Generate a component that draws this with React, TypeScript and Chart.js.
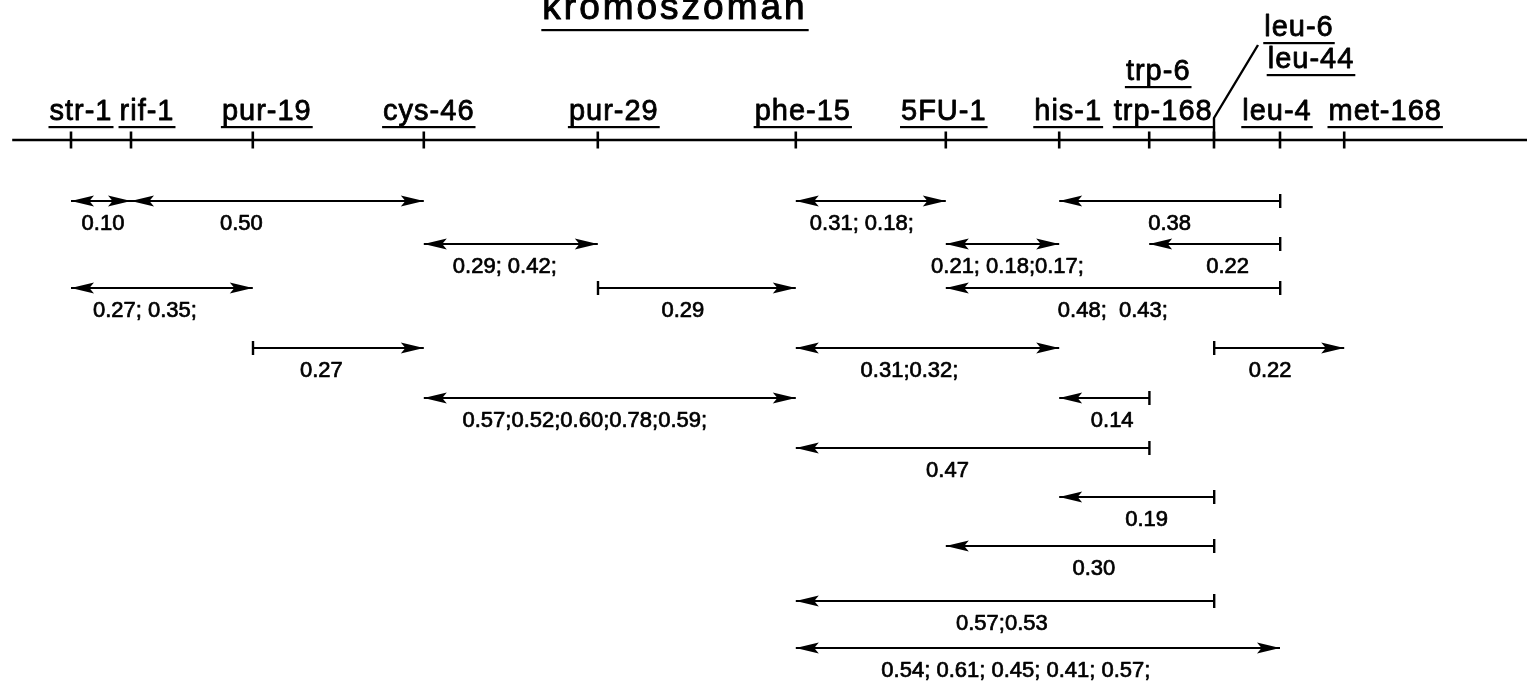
import React, { useEffect, useRef } from 'react';
import { Chart, registerables } from 'chart.js';
Chart.register(...registerables);

// ---------- data ----------
const title = 'kromoszómán';
const genes = ['str-1', 'rif-1', 'pur-19', 'cys-46', 'pur-29', 'phe-15', '5FU-1', 'his-1', 'trp-168', 'leu-6', 'leu-4', 'met-168'];
const genePositions = [0, 0.1, 0.303, 0.588, 0.878, 1.208, 1.458, 1.647, 1.797, 1.905, 2.015, 2.122];
const geneLabelLines = [['str-1'], ['rif-1'], ['pur-19'], ['cys-46'], ['pur-29'], ['phe-15'], ['5FU-1'], ['his-1'], ['trp-6', 'trp-168'], ['leu-6', 'leu-44'], ['leu-4'], ['met-168']];
const axisStart = -0.098;
const axisEnd = 2.45;

const arrowFrom = ['str-1', 'rif-1', 'phe-15', 'his-1', 'cys-46', '5FU-1', 'trp-168', 'str-1', 'pur-29', '5FU-1', 'pur-19', 'phe-15', 'leu-6', 'cys-46', 'his-1', 'phe-15', 'his-1', '5FU-1', 'phe-15', 'phe-15'];
const arrowTo = ['rif-1', 'cys-46', '5FU-1', 'leu-4', 'pur-29', 'his-1', 'leu-4', 'pur-19', 'phe-15', 'leu-4', 'cys-46', 'his-1', 'met-168', 'phe-15', 'trp-168', 'trp-168', 'leu-6', 'leu-6', 'leu-6', 'leu-4'];
const arrowRow = [1.22, 1.22, 1.22, 1.22, 2.08, 2.08, 2.08, 2.96, 2.96, 2.96, 4.16, 4.16, 4.16, 5.16, 5.16, 6.16, 7.14, 8.12, 9.22, 10.16];
const arrowLeftEnd = ['arrow', 'arrow', 'arrow', 'arrow', 'arrow', 'arrow', 'arrow', 'arrow', 'bar', 'arrow', 'bar', 'arrow', 'bar', 'arrow', 'arrow', 'arrow', 'arrow', 'arrow', 'arrow', 'arrow'];
const arrowRightEnd = ['arrow', 'arrow', 'arrow', 'bar', 'arrow', 'arrow', 'bar', 'arrow', 'arrow', 'bar', 'arrow', 'arrow', 'arrow', 'arrow', 'bar', 'bar', 'bar', 'bar', 'bar', 'arrow'];
const arrowLabels = ['0.10', '0.50', '0.31; 0.18;', '0.38', '0.29; 0.42;', '0.21; 0.18;0.17;', '0.22', '0.27; 0.35;', '0.29', '0.48;  0.43;', '0.27', '0.31;0.32;', '0.22', '0.57;0.52;0.60;0.78;0.59;', '0.14', '0.47', '0.19', '0.30', '0.57;0.53', '0.54; 0.61; 0.45; 0.41; 0.57;'];

// ---------- layout (pixels) ----------
const W = 1527;
const H = 689;
const PX_PER_UNIT = 600;
const ORIGIN_X = 71;
const PX_PER_ROW = 50;
const AXIS_Y = 140;
const LABEL_DX = [2, -36, -9, 0, -6, 5, 13, -17, -14, 0, -17, -18, -9, -25, 8, -25, 10, 14, -3, -22];
// per gene, per label line: [dx from tick, baseline y]
const GENE_LABEL_LAYOUT = [
  [[10, 120]], [[16, 120]], [[14, 120]], [[5, 120]], [[16, 120]], [[7, 120]], [[-2, 120]], [[9, 120]],
  [[9, 80], [14, 120]], [[85, 36], [97, 68]], [[-3, 120]], [[41, 120]],
];
const FONT = "'Liberation Sans', Arial, sans-serif";

const pos = (g: string) => genePositions[genes.indexOf(g)];

function drawHead(ctx: CanvasRenderingContext2D, tip: number, yy: number, dir: number) {
  const L = 23, HW = 5.5;
  ctx.beginPath();
  ctx.moveTo(tip, yy);
  ctx.lineTo(tip - dir * L, yy - HW);
  ctx.lineTo(tip - dir * L * 0.8, yy);
  ctx.lineTo(tip - dir * L, yy + HW);
  ctx.closePath();
  ctx.fill();
}

function boldText(ctx: CanvasRenderingContext2D, text: string, x: number, y: number, sw: number) {
  ctx.lineWidth = sw;
  ctx.strokeText(text, x, y);
  ctx.fillText(text, x, y);
}

function underlinedText(ctx: CanvasRenderingContext2D, text: string, cx: number, baseline: number, ul: number, sw: number) {
  ctx.textAlign = 'center';
  ctx.textBaseline = 'alphabetic';
  boldText(ctx, text, cx, baseline, sw);
  const w = ctx.measureText(text).width;
  ctx.fillRect(cx - w / 2 - 1, baseline + ul, w + 2, 2.2);
}

const decorations = {
  id: 'decorations',
  afterDatasetsDraw(chart: any) {
    const ctx: CanvasRenderingContext2D = chart.ctx;
    const xs = chart.scales.x;
    const ys = chart.scales.y;
    ctx.save();
    ctx.fillStyle = '#000';
    ctx.strokeStyle = '#000';
    ctx.lineJoin = 'round';

    // title
    ctx.font = `37px ${FONT}`;
    (ctx as any).letterSpacing = '3px';
    underlinedText(ctx, title, 675, 19, 10, 1);
    (ctx as any).letterSpacing = '1px';

    // gene labels
    ctx.font = `29px ${FONT}`;
    genes.forEach((g, i) => {
      const px = xs.getPixelForValue(genePositions[i]);
      geneLabelLines[i].forEach((line, j) => {
        const [dx, base] = GENE_LABEL_LAYOUT[i][j];
        underlinedText(ctx, line, px + dx, base, 6, 0.8);
      });
    });
    (ctx as any).letterSpacing = '0px';

    // leader for leu-6 / leu-44
    const lx = xs.getPixelForValue(pos('leu-6'));
    const ay = ys.getPixelForValue(0);
    ctx.lineWidth = 2.4;
    ctx.beginPath();
    ctx.moveTo(lx, ay);
    ctx.lineTo(lx, ay - 22);
    ctx.lineTo(lx + 44, ay - 95);
    ctx.stroke();

    // arrow ends and labels
    ctx.font = `22px ${FONT}`;
    arrowFrom.forEach((f, i) => {
      const x1 = xs.getPixelForValue(pos(f));
      const x2 = xs.getPixelForValue(pos(arrowTo[i]));
      const yy = ys.getPixelForValue(arrowRow[i]);
      if (arrowLeftEnd[i] === 'arrow') drawHead(ctx, x1, yy, -1);
      else ctx.fillRect(x1 - 1, yy - 7, 2.4, 14);
      if (arrowRightEnd[i] === 'arrow') drawHead(ctx, x2, yy, 1);
      else ctx.fillRect(x2 - 1, yy - 7, 2.4, 14);
      ctx.textAlign = 'center';
      ctx.textBaseline = 'alphabetic';
      boldText(ctx, arrowLabels[i], (x1 + x2) / 2 + LABEL_DX[i], yy + 29, 0.7);
    });
    ctx.restore();
  },
};

export default function App() {
  const ref = useRef<HTMLCanvasElement>(null);
  useEffect(() => {
    document.body.style.margin = '0';
    const xmin = -ORIGIN_X / PX_PER_UNIT;
    const xmax = xmin + W / PX_PER_UNIT;
    const ymin = -AXIS_Y / PX_PER_ROW;
    const ymax = ymin + H / PX_PER_ROW;
    const datasets: any[] = [
      {
        data: [{ x: axisStart, y: 0 }, { x: axisEnd, y: 0 }],
        showLine: true, borderColor: '#000', borderWidth: 2.6, pointRadius: 0, clip: false,
      },
      {
        data: genePositions.map((p) => ({ x: p, y: 0 })),
        showLine: false, pointStyle: 'line', rotation: 90, pointRadius: 8.5,
        pointBorderWidth: 2.6, pointBorderColor: '#000', borderColor: '#000', clip: false,
      },
    ];
    arrowFrom.forEach((f, i) => {
      datasets.push({
        data: [{ x: pos(f), y: arrowRow[i] }, { x: pos(arrowTo[i]), y: arrowRow[i] }],
        showLine: true, borderColor: '#000', borderWidth: 2.2, pointRadius: 0, clip: false,
      });
    });
    const chart = new Chart(ref.current!, {
      type: 'scatter',
      data: { datasets },
      options: {
        responsive: false,
        devicePixelRatio: 1,
        animation: false,
        layout: { padding: 0, autoPadding: false },
        plugins: { legend: { display: false }, tooltip: { enabled: false } },
        scales: {
          x: { type: 'linear', display: false, min: xmin, max: xmax },
          y: { type: 'linear', display: false, reverse: true, min: ymin, max: ymax },
        },
      },
      plugins: [decorations],
    });
    return () => chart.destroy();
  }, []);
  return (
    <div style={{ position: 'absolute', left: 0, top: 0, width: W, height: H, background: '#fff' }}>
      <canvas ref={ref} width={W} height={H} />
    </div>
  );
}
